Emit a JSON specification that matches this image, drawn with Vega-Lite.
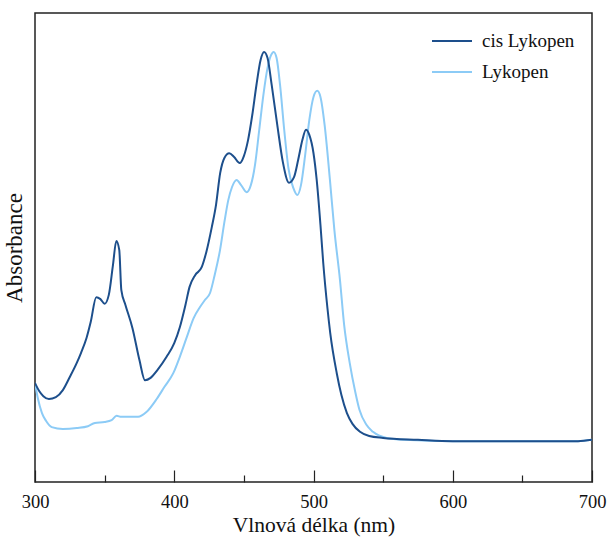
{
  "$schema": "https://vega.github.io/schema/vega-lite/v6.json",
  "width": 557,
  "height": 469,
  "autosize": {"type": "none"},
  "padding": {"left": 35, "top": 13, "right": 15, "bottom": 56},
  "config": {
    "font": "Liberation Serif",
    "view": {"stroke": "#222", "strokeWidth": 1.5},
    "background": "white"
  },
  "data": {
    "values": [
      {"nm":300,"abs":0.211,"series":"Lykopen"},{"nm":302,"abs":0.179,"series":"Lykopen"},{"nm":305,"abs":0.147,"series":"Lykopen"},{"nm":308,"abs":0.130,"series":"Lykopen"},{"nm":312,"abs":0.117,"series":"Lykopen"},{"nm":320,"abs":0.113,"series":"Lykopen"},{"nm":330,"abs":0.115,"series":"Lykopen"},{"nm":338,"abs":0.119,"series":"Lykopen"},{"nm":343,"abs":0.126,"series":"Lykopen"},{"nm":350,"abs":0.128,"series":"Lykopen"},{"nm":355,"abs":0.132,"series":"Lykopen"},{"nm":358.6,"abs":0.141,"series":"Lykopen"},{"nm":362,"abs":0.139,"series":"Lykopen"},{"nm":370,"abs":0.139,"series":"Lykopen"},{"nm":374,"abs":0.139,"series":"Lykopen"},{"nm":380,"abs":0.149,"series":"Lykopen"},{"nm":387.4,"abs":0.177,"series":"Lykopen"},{"nm":393,"abs":0.203,"series":"Lykopen"},{"nm":399.3,"abs":0.232,"series":"Lykopen"},{"nm":404,"abs":0.267,"series":"Lykopen"},{"nm":409,"abs":0.309,"series":"Lykopen"},{"nm":414,"abs":0.350,"series":"Lykopen"},{"nm":418.5,"abs":0.373,"series":"Lykopen"},{"nm":422,"abs":0.388,"series":"Lykopen"},{"nm":425.7,"abs":0.403,"series":"Lykopen"},{"nm":429,"abs":0.441,"series":"Lykopen"},{"nm":432.9,"abs":0.495,"series":"Lykopen"},{"nm":436,"abs":0.554,"series":"Lykopen"},{"nm":438.8,"abs":0.601,"series":"Lykopen"},{"nm":441.5,"abs":0.629,"series":"Lykopen"},{"nm":444.8,"abs":0.644,"series":"Lykopen"},{"nm":448,"abs":0.633,"series":"Lykopen"},{"nm":452,"abs":0.618,"series":"Lykopen"},{"nm":455,"abs":0.633,"series":"Lykopen"},{"nm":458,"abs":0.676,"series":"Lykopen"},{"nm":461,"abs":0.750,"series":"Lykopen"},{"nm":464,"abs":0.825,"series":"Lykopen"},{"nm":467,"abs":0.883,"series":"Lykopen"},{"nm":469.5,"abs":0.910,"series":"Lykopen"},{"nm":471.4,"abs":0.917,"series":"Lykopen"},{"nm":473.5,"abs":0.904,"series":"Lykopen"},{"nm":476,"abs":0.846,"series":"Lykopen"},{"nm":479,"abs":0.750,"series":"Lykopen"},{"nm":482,"abs":0.669,"series":"Lykopen"},{"nm":485.5,"abs":0.627,"series":"Lykopen"},{"nm":488.4,"abs":0.612,"series":"Lykopen"},{"nm":491,"abs":0.633,"series":"Lykopen"},{"nm":494,"abs":0.697,"series":"Lykopen"},{"nm":497,"abs":0.772,"series":"Lykopen"},{"nm":500,"abs":0.821,"series":"Lykopen"},{"nm":502.7,"abs":0.834,"series":"Lykopen"},{"nm":505,"abs":0.821,"series":"Lykopen"},{"nm":508,"abs":0.761,"series":"Lykopen"},{"nm":511.8,"abs":0.644,"series":"Lykopen"},{"nm":515,"abs":0.537,"series":"Lykopen"},{"nm":519,"abs":0.431,"series":"Lykopen"},{"nm":522,"abs":0.335,"series":"Lykopen"},{"nm":526,"abs":0.254,"series":"Lykopen"},{"nm":530,"abs":0.192,"series":"Lykopen"},{"nm":533,"abs":0.154,"series":"Lykopen"},{"nm":538,"abs":0.122,"series":"Lykopen"},{"nm":542.7,"abs":0.107,"series":"Lykopen"},{"nm":552.6,"abs":0.094,"series":"Lykopen"},{"nm":565,"abs":0.090,"series":"Lykopen"},{"nm":600,"abs":0.087,"series":"Lykopen"},{"nm":650,"abs":0.087,"series":"Lykopen"},{"nm":690,"abs":0.087,"series":"Lykopen"},{"nm":700,"abs":0.090,"series":"Lykopen"},
      {"nm":300,"abs":0.211,"series":"cis Lykopen"},{"nm":303,"abs":0.194,"series":"cis Lykopen"},{"nm":306,"abs":0.183,"series":"cis Lykopen"},{"nm":310,"abs":0.177,"series":"cis Lykopen"},{"nm":315,"abs":0.181,"series":"cis Lykopen"},{"nm":320,"abs":0.196,"series":"cis Lykopen"},{"nm":325,"abs":0.224,"series":"cis Lykopen"},{"nm":330,"abs":0.254,"series":"cis Lykopen"},{"nm":333,"abs":0.275,"series":"cis Lykopen"},{"nm":337,"abs":0.307,"series":"cis Lykopen"},{"nm":340,"abs":0.341,"series":"cis Lykopen"},{"nm":344,"abs":0.394,"series":"cis Lykopen"},{"nm":347,"abs":0.390,"series":"cis Lykopen"},{"nm":350,"abs":0.380,"series":"cis Lykopen"},{"nm":353,"abs":0.399,"series":"cis Lykopen"},{"nm":356,"abs":0.463,"series":"cis Lykopen"},{"nm":358.4,"abs":0.514,"series":"cis Lykopen"},{"nm":360.5,"abs":0.495,"series":"cis Lykopen"},{"nm":362,"abs":0.409,"series":"cis Lykopen"},{"nm":365,"abs":0.377,"series":"cis Lykopen"},{"nm":370,"abs":0.328,"series":"cis Lykopen"},{"nm":375,"abs":0.260,"series":"cis Lykopen"},{"nm":379,"abs":0.217,"series":"cis Lykopen"},{"nm":383,"abs":0.222,"series":"cis Lykopen"},{"nm":388,"abs":0.239,"series":"cis Lykopen"},{"nm":394.5,"abs":0.267,"series":"cis Lykopen"},{"nm":400,"abs":0.296,"series":"cis Lykopen"},{"nm":404,"abs":0.330,"series":"cis Lykopen"},{"nm":408,"abs":0.377,"series":"cis Lykopen"},{"nm":411,"abs":0.416,"series":"cis Lykopen"},{"nm":415,"abs":0.441,"series":"cis Lykopen"},{"nm":419.7,"abs":0.458,"series":"cis Lykopen"},{"nm":423,"abs":0.490,"series":"cis Lykopen"},{"nm":427,"abs":0.544,"series":"cis Lykopen"},{"nm":430,"abs":0.591,"series":"cis Lykopen"},{"nm":433,"abs":0.659,"series":"cis Lykopen"},{"nm":436,"abs":0.691,"series":"cis Lykopen"},{"nm":439.5,"abs":0.701,"series":"cis Lykopen"},{"nm":443,"abs":0.693,"series":"cis Lykopen"},{"nm":447,"abs":0.680,"series":"cis Lykopen"},{"nm":450,"abs":0.695,"series":"cis Lykopen"},{"nm":453,"abs":0.729,"series":"cis Lykopen"},{"nm":456,"abs":0.782,"series":"cis Lykopen"},{"nm":459,"abs":0.846,"series":"cis Lykopen"},{"nm":462,"abs":0.900,"series":"cis Lykopen"},{"nm":464.5,"abs":0.917,"series":"cis Lykopen"},{"nm":467,"abs":0.904,"series":"cis Lykopen"},{"nm":470,"abs":0.846,"series":"cis Lykopen"},{"nm":474,"abs":0.761,"series":"cis Lykopen"},{"nm":478,"abs":0.682,"series":"cis Lykopen"},{"nm":482.4,"abs":0.638,"series":"cis Lykopen"},{"nm":486,"abs":0.650,"series":"cis Lykopen"},{"nm":489,"abs":0.687,"series":"cis Lykopen"},{"nm":492,"abs":0.729,"series":"cis Lykopen"},{"nm":494.6,"abs":0.751,"series":"cis Lykopen"},{"nm":497,"abs":0.740,"series":"cis Lykopen"},{"nm":500,"abs":0.701,"series":"cis Lykopen"},{"nm":502.3,"abs":0.644,"series":"cis Lykopen"},{"nm":505,"abs":0.548,"series":"cis Lykopen"},{"nm":507,"abs":0.467,"series":"cis Lykopen"},{"nm":510,"abs":0.371,"series":"cis Lykopen"},{"nm":512,"abs":0.318,"series":"cis Lykopen"},{"nm":516.7,"abs":0.232,"series":"cis Lykopen"},{"nm":520,"abs":0.186,"series":"cis Lykopen"},{"nm":524,"abs":0.147,"series":"cis Lykopen"},{"nm":528,"abs":0.124,"series":"cis Lykopen"},{"nm":533.4,"abs":0.107,"series":"cis Lykopen"},{"nm":540,"abs":0.098,"series":"cis Lykopen"},{"nm":550,"abs":0.094,"series":"cis Lykopen"},{"nm":575,"abs":0.090,"series":"cis Lykopen"},{"nm":600,"abs":0.087,"series":"cis Lykopen"},{"nm":650,"abs":0.087,"series":"cis Lykopen"},{"nm":690,"abs":0.087,"series":"cis Lykopen"},{"nm":700,"abs":0.090,"series":"cis Lykopen"}
    ]
  },
  "mark": {"type": "line", "interpolate": "monotone", "strokeWidth": 2, "clip": true},
  "encoding": {
    "x": {
      "field": "nm", "type": "quantitative",
      "scale": {"domain": [300, 700], "nice": false, "zero": false},
      "axis": {
        "title": "Vlnová délka (nm)",
        "values": [300, 350, 400, 450, 500, 550, 600, 650, 700],
        "labelExpr": "datum.value % 100 === 0 ? datum.label : ''",
        "labelFontSize": 18.5, "labelColor": "#111", "labelPadding": 22, "labelFlush": false, "labelOverlap": false,
        "tickSize": {"condition": {"test": "datum.value % 100 === 0", "value": -12}, "value": -7},
        "tickColor": "#222", "tickWidth": 1.2,
        "domain": false, "grid": false,
        "titleFontSize": 21.5, "titleFontWeight": "normal", "titleColor": "#111", "titlePadding": -1
      }
    },
    "y": {
      "field": "abs", "type": "quantitative",
      "scale": {"domain": [0, 1], "nice": false},
      "axis": {
        "title": "Absorbance", "labels": false, "ticks": false, "domain": false, "grid": false,
        "titleFontSize": 23, "titleFontWeight": "normal", "titleColor": "#111", "titlePadding": 9
      }
    },
    "color": {
      "field": "series", "type": "nominal",
      "sort": ["Lykopen", "cis Lykopen"],
      "scale": {"domain": ["cis Lykopen", "Lykopen"], "range": ["#1d4f8c", "#8ccbf6"]},
      "legend": {
        "title": null, "orient": "none", "legendX": 396, "legendY": 7,
        "symbolType": "stroke", "symbolSize": 1600, "symbolStrokeWidth": 2,
        "labelFontSize": 19, "labelColor": "#111", "labelOffset": 9, "rowPadding": 0
      }
    }
  }
}
